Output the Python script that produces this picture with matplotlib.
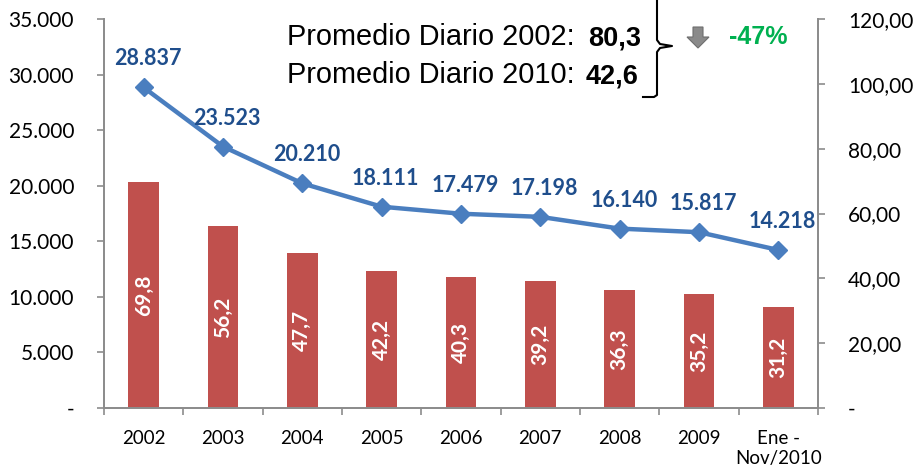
import matplotlib
matplotlib.use("Agg")
import matplotlib.pyplot as plt
import numpy as np
from matplotlib.lines import Line2D
from matplotlib.patches import Polygon

categories = ["2002", "2003", "2004", "2005", "2006", "2007", "2008", "2009", "Ene -\nNov/2010"]
totals = [28837, 23523, 20210, 18111, 17479, 17198, 16140, 15817, 14218]
daily = [69.8, 56.2, 47.7, 42.2, 40.3, 39.2, 36.3, 35.2, 31.2]
left_ticks = [0, 5000, 10000, 15000, 20000, 25000, 30000, 35000]
right_ticks = [0, 20, 40, 60, 80, 100, 120]

plt.rcParams['font.family'] = ['Lato', 'DejaVu Sans']

fig = plt.figure(figsize=(9.14, 4.68), dpi=100)
axb = fig.add_axes([104/914, 1-408/468, (818-104)/914, (408-19)/468])
axl = axb.twinx()

x = np.arange(len(categories))
bar_color = '#C0504D'
line_color = '#4A7EBF'
lab_color = '#1F4E8C'
grey = '#8C8C8C'

axb.bar(x, daily, width=0.39, color=bar_color, zorder=2)
for xi, v in zip(x, daily):
    axb.text(xi, v/2, f"{v:.1f}".replace('.', ','), rotation=90, ha='center', va='center',
             color='white', fontsize=15, fontweight='bold')

axl.plot(x, totals, color=line_color, lw=3.2, marker='D', markersize=9, zorder=3)
for xi, v in zip(x, totals):
    axl.annotate(f"{v:,}".replace(',', '.'), (xi, v), xytext=(3, 13), textcoords='offset points',
                 ha='center', va='bottom', color=lab_color, fontsize=15.5, fontweight='bold')

axb.set_xlim(-0.5, len(categories)-0.5)
axb.set_ylim(0, 120)
axl.set_ylim(0, 35000)

axb.yaxis.tick_right()
axb.yaxis.set_label_position('right')
axl.yaxis.tick_left()
axl.yaxis.set_label_position('left')

axb.set_yticks(right_ticks)
axb.set_yticklabels(['-' if t == 0 else f"{t:.2f}".replace('.', ',') for t in right_ticks])
axl.set_yticks(left_ticks)
axl.set_yticklabels(['-' if t == 0 else f"{t:,}".replace(',', '.') for t in left_ticks])

axb.set_xticks(x)
axb.set_xticklabels(categories)
axb.set_xticks(np.arange(-0.5, len(categories), 1.0), minor=True)
axb.tick_params(axis='x', which='major', length=0, pad=16, labelsize=13.5, colors='black')
axb.tick_params(axis='x', which='minor', length=5, width=1.2, color=grey, direction='out')
axb.tick_params(axis='y', length=5, width=1.2, color=grey, labelsize=15, pad=16.5, labelcolor='black')
axl.tick_params(axis='y', length=5, width=1.2, color=grey, labelsize=15, pad=16.5, labelcolor='black')

for a in (axb, axl):
    a.spines['top'].set_visible(False)
    for s in ('left', 'right', 'bottom'):
        a.spines[s].set_color(grey)
        a.spines[s].set_linewidth(1.3)
    a.patch.set_visible(False)

# annotation box
def fx(px):
    return px / 914
def fy(py):
    return 1 - py / 468

fig.text(fx(287), fy(37), "Promedio Diario 2002:", fontsize=20.8, family='Liberation Sans', va='center', ha='left')
fig.text(fx(287), fy(75), "Promedio Diario 2010:", fontsize=20.8, family='Liberation Sans', va='center', ha='left')
fig.text(fx(641), fy(39), "80,3", fontsize=19.5, family='Liberation Sans', fontweight='bold', va='center', ha='right')
fig.text(fx(638), fy(77), "42,6", fontsize=19.5, family='Liberation Sans', fontweight='bold', va='center', ha='right')
fig.text(fx(729), fy(37), "-47%", fontsize=18, family='Liberation Sans', fontweight='bold', color='#00B050',
         va='center', ha='left')

# brace
bx = [657, 657, 660, 672, 660, 657, 657, 654, 643]
by = [0, 40, 44, 46, 48, 52, 95, 97, 97]
fig.add_artist(Line2D([fx(v) for v in bx], [fy(v) for v in by], color='black', lw=1.5))

# down arrow
ax_pts = [(693, 27), (703, 27), (703, 37), (709, 37), (698, 48), (687, 37), (693, 37)]
fig.add_artist(Polygon([(fx(a), fy(b)) for a, b in ax_pts], closed=True, facecolor='#8A8A8A',
                       edgecolor='#6E6E6E', lw=0.8, transform=fig.transFigure))

fig.savefig('out.png', dpi=100)
